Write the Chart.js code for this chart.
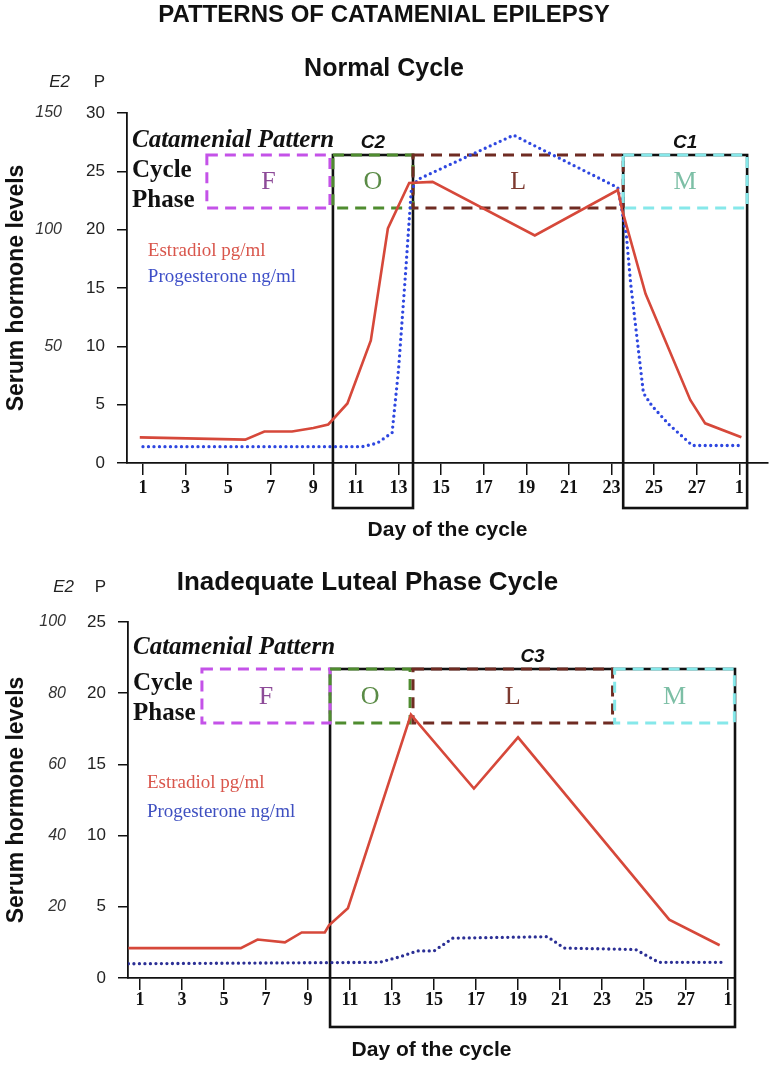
<!DOCTYPE html>
<html>
<head>
<meta charset="utf-8">
<script src="https://cdn.jsdelivr.net/npm/chart.js@4.4.1/dist/chart.umd.min.js"></script>
<style>
  html, body { margin: 0; padding: 0; background: #fff; }
  #wrap { position: relative; width: 773px; height: 1068px; }
  canvas { position: absolute; left: 0; }
</style>
</head>
<body>
<div id="wrap">
  <canvas id="normalChart" width="773" height="548" style="top:0"></canvas>
  <canvas id="lutealChart" width="773" height="520" style="top:548px"></canvas>
</div>
<script>
// x axis ticks (day of the cycle)
const tickDays = [1, 3, 5, 7, 9, 11, 13, 15, 17, 19, 21, 23, 25, 27, 29];
const tickLabels = ['1', '3', '5', '7', '9', '11', '13', '15', '17', '19', '21', '23', '25', '27', '1'];

// Normal cycle - estradiol (pg/ml) and progesterone (ng/ml)
const normalE2Days = [0.85, 5.8, 6.7, 8.0, 9.0, 9.7, 10.0, 10.6, 11.7, 12.5, 13.5, 14.6, 19.4, 23.3, 23.5, 24.6, 26.7, 27.4, 29.1];
const normalE2 = [11, 10, 13.5, 13.5, 15, 16.5, 19.5, 25.5, 52.5, 100.5, 120, 120.5, 97.5, 117, 108.5, 72.5, 27, 17, 11];
const normalPDays = [1.0, 11.3, 12.0, 12.7, 13.0, 13.3, 13.6, 13.9, 18.4, 23.3, 23.7, 23.9, 24.5, 24.9, 25.7, 26.8, 29.0];
const normalP = [1.4, 1.4, 1.7, 2.6, 8.0, 15.5, 23.4, 24.3, 28.1, 23.6, 19.5, 15.4, 6.0, 4.9, 3.3, 1.5, 1.5];

// Inadequate luteal phase cycle
const lutealE2Days = [0.45, 5.8, 6.6, 7.9, 8.7, 9.8, 10.0, 10.9, 13.9, 16.9, 19.0, 26.2, 28.6];
const lutealE2 = [8.4, 8.4, 10.8, 10, 12.8, 12.8, 14.8, 19.6, 74, 53.2, 67.6, 16.4, 9.2];
const lutealPDays = [0.45, 12.4, 13.4, 14.2, 15.0, 15.9, 20.4, 21.2, 24.6, 25.7, 28.8];
const lutealP = [1.0, 1.1, 1.5, 1.9, 1.9, 2.8, 2.9, 2.1, 2.0, 1.1, 1.1];

// cycle phases (day ranges)
const phaseNames = ['F', 'O', 'L', 'M'];
const normalPhaseStart = [4.0, 9.92, 13.68, 23.55];
const normalPhaseEnd = [9.78, 13.68, 23.55, 29.37];
const lutealPhaseStart = [3.95, 10.05, 14.0, 23.6];
const lutealPhaseEnd = [10.05, 13.86, 23.5, 29.3];

// catamenial patterns
const normalPatterns = ['C2', 'C1'];
const normalPatternStart = [9.92, 23.55];
const normalPatternEnd = [13.68, 29.37];
const lutealPatterns = ['C3'];
const lutealPatternStart = [10.05];
const lutealPatternEnd = [29.33];

const phaseStroke = ['#c452e8', '#4f8c2f', '#6f2b22', '#86e8ea'];
const phaseText = ['#8d4b98', '#5a8b46', '#7d3a30', '#7dbfa6'];

const SANS = '"Liberation Sans", Arial, sans-serif';
const SERIF = '"Liberation Serif", "Times New Roman", serif';

function points(days, vals) {
  return days.map((d, i) => ({ x: d, y: vals[i] }));
}

// boxes, labels and in-chart texts
function patternOverlay(cfg) {
  return {
    id: 'patternOverlay',
    beforeDatasetsDraw(chart) {
      const { ctx } = chart;
      const px = d => chart.scales.x.getPixelForValue(d);
      const py = v => chart.scales.y.getPixelForValue(v);
      ctx.save();
      ctx.strokeStyle = '#111';
      ctx.lineWidth = 2.6;
      ctx.setLineDash([]);
      cfg.patternStart.forEach((s, i) => {
        const x0 = px(s), x1 = px(cfg.patternEnd[i]);
        const y0 = py(cfg.bandTop), y1 = py(cfg.patternLow);
        ctx.strokeRect(x0, y0, x1 - x0, y1 - y0);
      });
      ctx.lineWidth = 3;
      ctx.setLineDash([11, 7]);
      cfg.phaseStart.forEach((s, i) => {
        const x0 = px(s), x1 = px(cfg.phaseEnd[i]);
        const y0 = py(cfg.bandTop), y1 = py(cfg.bandBottom);
        ctx.strokeStyle = phaseStroke[i];
        ctx.strokeRect(x0, y0, x1 - x0, y1 - y0);
      });
      ctx.setLineDash([]);
      ctx.textAlign = 'center';
      ctx.textBaseline = 'middle';
      ctx.font = '26px ' + SERIF;
      cfg.phaseStart.forEach((s, i) => {
        ctx.fillStyle = phaseText[i];
        ctx.fillText(phaseNames[i], (px(s) + px(cfg.phaseEnd[i])) / 2,
          (py(cfg.bandTop) + py(cfg.bandBottom)) / 2 + 1);
      });
      ctx.fillStyle = '#111';
      ctx.font = 'italic bold 19px ' + SANS;
      cfg.patternStart.forEach((s, i) => {
        ctx.fillText(cfg.patterns[i], (px(s) + px(cfg.patternEnd[i])) / 2, py(cfg.bandTop) - 12);
      });
      // row headings
      const left = chart.chartArea.left + 5;
      ctx.textAlign = 'left';
      ctx.font = 'italic bold 25px ' + SERIF;
      ctx.fillText('Catamenial Pattern', left, py(cfg.headY[0]));
      ctx.font = 'bold 25px ' + SERIF;
      ctx.fillText('Cycle', left, py(cfg.headY[1]));
      ctx.fillText('Phase', left, py(cfg.headY[2]));
      // legend texts
      ctx.font = '19px ' + SERIF;
      ctx.fillStyle = '#d9564c';
      ctx.fillText('Estradiol pg/ml', px(cfg.legendX), py(cfg.legendY[0]));
      ctx.fillStyle = cfg.legendBlue;
      ctx.fillText('Progesterone ng/ml', px(cfg.legendX), py(cfg.legendY[1]));
      ctx.restore();
    },
    afterDraw(chart) {
      const { ctx } = chart;
      const e2 = chart.scales.e2, p = chart.scales.y;
      const yy = chart.chartArea.top - cfg.headerGap;
      ctx.save();
      ctx.fillStyle = '#222';
      ctx.textAlign = 'right';
      ctx.textBaseline = 'middle';
      ctx.font = 'italic 17px ' + SANS;
      ctx.fillText('E2', e2.right - cfg.e2Pad, yy);
      ctx.font = '17px ' + SANS;
      ctx.fillText('P', p.right - 22, yy);
      ctx.restore();
    }
  };
}

function makeChart(id, o) {
  const ctx = document.getElementById(id).getContext('2d');
  return new Chart(ctx, {
    type: 'line',
    data: {
      datasets: [{
        label: 'Estradiol pg/ml',
        data: points(o.e2Days, o.e2),
        yAxisID: 'e2',
        borderColor: '#d6483a',
        borderWidth: 2.6,
        pointRadius: 0,
        tension: 0
      }, {
        label: 'Progesterone ng/ml',
        data: points(o.pDays, o.p),
        yAxisID: 'y',
        borderColor: o.blue,
        borderWidth: 3.3,
        borderDash: [0, 5.5],
        borderCapStyle: 'round',
        pointRadius: 0,
        tension: 0
      }]
    },
    options: {
      responsive: false,
      devicePixelRatio: 1,
      animation: false,
      layout: { padding: { top: 0, left: 0, right: o.padRight, bottom: 0 } },
      plugins: {
        legend: { display: false },
        tooltip: { enabled: false },
        title: o.title,
        subtitle: o.subtitle
      },
      scales: {
        x: {
          type: 'linear',
          min: o.xMin,
          max: o.xMax,
          afterBuildTicks: s => { s.ticks = tickDays.map(v => ({ value: v })); },
          afterFit: s => { s.height = o.xHeight; },
          ticks: {
            autoSkip: false,
            maxRotation: 0,
            padding: o.xTickPad,
            color: '#111',
            font: { family: SERIF, size: 18, weight: 'bold' },
            callback: (v, i) => tickLabels[i]
          },
          grid: { drawOnChartArea: false, color: '#111', lineWidth: 1.5, tickLength: 12 },
          border: { color: '#111', width: 1.8 },
          title: {
            display: true,
            text: 'Day of the cycle',
            color: '#111',
            font: { family: SANS, size: 21, weight: 'bold' },
            padding: { top: 0, bottom: 5 }
          }
        },
        e2: {
          position: 'left',
          weight: 1,
          min: 0,
          max: o.e2Max,
          afterFit: s => { s.width = 80; },
          ticks: {
            stepSize: o.e2Step,
            padding: o.e2Pad,
            color: '#333',
            font: { family: SANS, size: 16, style: 'italic' },
            callback: v => (v === 0 ? '' : v)
          },
          grid: { display: false },
          border: { display: false },
          title: {
            display: true,
            text: 'Serum hormone levels',
            color: '#111',
            font: { family: SANS, size: 23, weight: 'bold' },
            padding: { top: 3, bottom: 0 }
          }
        },
        y: {
          position: 'left',
          weight: 0,
          min: 0,
          max: o.pMax,
          afterFit: s => { s.width = o.pWidth; },
          ticks: {
            stepSize: 5,
            padding: 12,
            color: '#222',
            font: { family: SANS, size: 17 }
          },
          grid: { drawOnChartArea: false, color: '#111', lineWidth: 1.5, tickLength: 10 },
          border: { color: '#111', width: 1.8 }
        }
      }
    },
    plugins: [patternOverlay(o.overlay)]
  });
}

makeChart('normalChart', {
  e2Days: normalE2Days, e2: normalE2, pDays: normalPDays, p: normalP,
  blue: '#2e47e0',
  xMin: 0.25, xMax: 30.35, xHeight: 85, xTickPad: 3, padRight: 5,
  e2Max: 150, e2Step: 50, e2Pad: 10, pMax: 30, pWidth: 47,
  title: {
    display: true,
    text: 'PATTERNS OF CATAMENIAL EPILEPSY',
    color: '#111',
    font: { family: SANS, size: 24, weight: 'bold' },
    padding: { top: 1, bottom: 10 }
  },
  subtitle: {
    display: true,
    text: 'Normal Cycle',
    color: '#111',
    font: { family: SANS, size: 25, weight: 'bold' },
    padding: { top: 14, bottom: 29.2 }
  },
  overlay: {
    patterns: normalPatterns, patternStart: normalPatternStart, patternEnd: normalPatternEnd,
    phaseStart: normalPhaseStart, phaseEnd: normalPhaseEnd,
    bandTop: 26.4, bandBottom: 21.85, patternLow: -3.86,
    headY: [27.6, 25.1, 22.5],
    legendX: 1.23, legendY: [18.2, 15.9], legendBlue: '#3e4fc8',
    headerGap: 31, e2Pad: 10
  }
});

makeChart('lutealChart', {
  e2Days: lutealE2Days, e2: lutealE2, pDays: lutealPDays, p: lutealP,
  blue: '#2b2f95',
  xMin: 0.43, xMax: 29.33, xHeight: 90, xTickPad: 0, padRight: 38,
  e2Max: 100, e2Step: 20, e2Pad: 6, pMax: 25, pWidth: 48,
  title: {
    display: true,
    text: 'Inadequate Luteal Phase Cycle',
    color: '#111',
    font: { family: SANS, size: 26, weight: 'bold' },
    padding: { top: 19.4, bottom: 23.4 }
  },
  subtitle: { display: false },
  overlay: {
    patterns: lutealPatterns, patternStart: lutealPatternStart, patternEnd: lutealPatternEnd,
    phaseStart: lutealPhaseStart, phaseEnd: lutealPhaseEnd,
    bandTop: 21.7, bandBottom: 17.9, patternLow: -3.44,
    headY: [23.2, 20.7, 18.6],
    legendX: 1.33, legendY: [13.7, 11.66], legendBlue: '#3e4fc0',
    headerGap: 35, e2Pad: 6
  }
});
</script>
</body>
</html>
